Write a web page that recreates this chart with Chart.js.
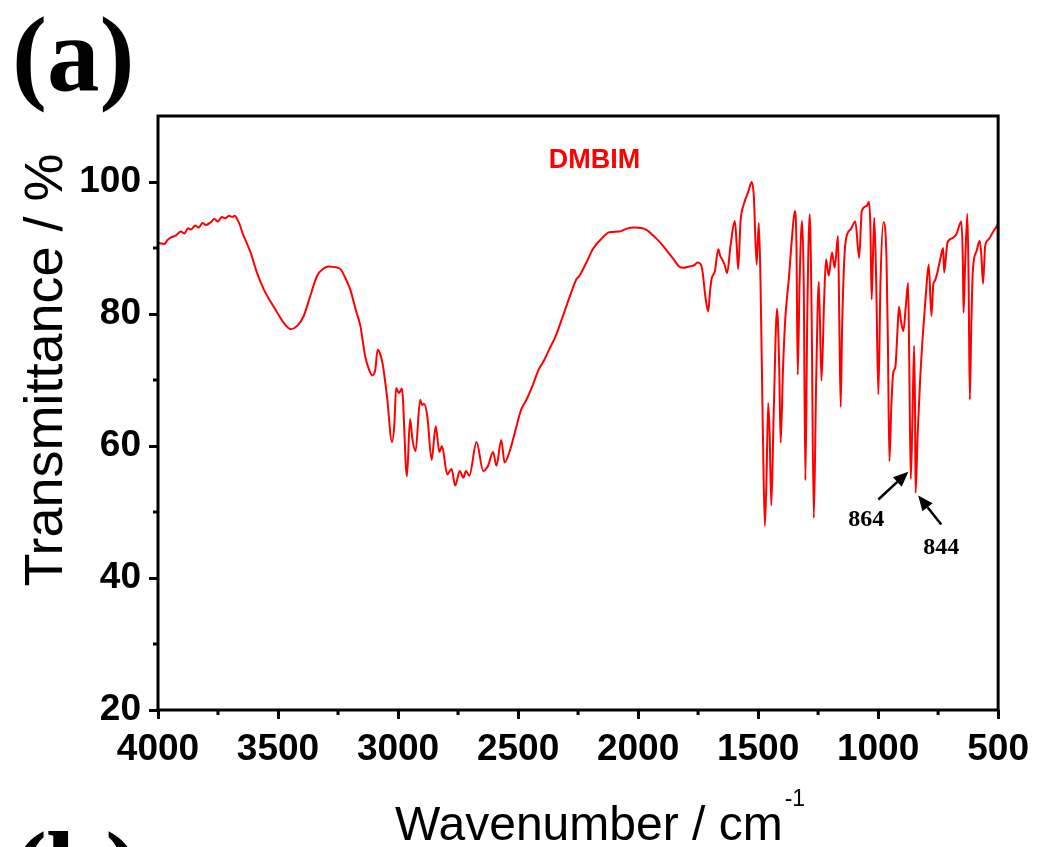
<!DOCTYPE html>
<html>
<head>
<meta charset="utf-8">
<script src="https://cdn.jsdelivr.net/npm/chart.js@4.4.0/dist/chart.umd.min.js"></script>
<style>
  html, body { margin: 0; padding: 0; background: #fff; }
  #wrap { width: 1038px; height: 847px; position: relative; }
</style>
</head>
<body>
<div id="wrap"><canvas id="ftir" width="1038" height="847"></canvas></div>
<script>
// ---- data ----
const wavenumber = [
  4000, 3974, 3960, 3946, 3925, 3905, 3890, 3875, 3863, 3845, 3830, 3815, 3800, 3780, 3765, 3750,
  3735, 3720, 3704, 3690, 3680, 3669, 3660, 3648, 3614, 3590, 3559, 3530, 3503, 3475, 3448, 3420,
  3393, 3365, 3337, 3310, 3289, 3265, 3240, 3220, 3199, 3175, 3157, 3137, 3120, 3108, 3095, 3085,
  3075, 3064, 3046, 3025, 3015, 3008, 2996, 2984, 2963, 2950, 2940, 2927, 2908, 2900, 2892, 2878,
  2860, 2843, 2828, 2817, 2795, 2777, 2762, 2743, 2728, 2717, 2703, 2673, 2645, 2625, 2604, 2590,
  2570, 2556, 2535, 2510, 2487, 2465, 2438, 2415, 2390, 2368, 2345, 2313, 2279, 2258, 2244, 2210,
  2189, 2150, 2120, 2078, 2050, 2016, 1967, 1926, 1900, 1878, 1850, 1829, 1810, 1787, 1765, 1753,
  1740, 1733, 1718, 1708, 1700, 1694, 1680, 1666, 1658, 1650, 1640, 1629, 1615, 1597, 1590, 1583,
  1573, 1559, 1541, 1527, 1518, 1506, 1497, 1490, 1480, 1472, 1465, 1458, 1452, 1445, 1435, 1421,
  1412, 1406, 1396, 1386, 1372, 1360, 1347, 1340, 1335, 1327, 1317, 1310, 1303, 1295, 1285, 1277,
  1268, 1258, 1247, 1236, 1225, 1217, 1206, 1192, 1181, 1167, 1162, 1156, 1150, 1136, 1115, 1095,
  1079, 1068, 1047, 1038, 1032, 1027, 1022, 1016, 1008, 999, 990, 978, 965, 959, 953, 945,
  937, 928, 920, 913, 905, 895, 885, 875, 870, 864, 857, 850, 846, 844, 835, 825,
  813, 800, 789, 778, 770, 764, 755, 740, 729, 725, 711, 690, 674, 653, 647, 644,
  638, 628, 623, 618, 612, 605, 590, 577, 570, 563, 554, 540, 520, 500
];
const transmittance = [
  90.8, 90.6, 91.2, 91.6, 91.9, 92.5, 92.2, 93.0, 92.8, 93.4, 93.1, 93.8, 93.5, 93.9, 94.4, 94.0,
  94.7, 94.5, 94.9, 94.7, 94.9, 94.3, 93.6, 92.3, 89.3, 86.5, 83.7, 81.8, 80.2, 78.6, 77.7, 78.2,
  79.7, 82.8, 85.8, 86.9, 87.2, 87.1, 86.8, 85.5, 83.7, 80.5, 78.2, 73.6, 71.5, 70.7, 71.5, 74.6,
  74.0, 72.4, 67.5, 60.6, 63.5, 68.8, 68.0, 68.7, 55.4, 64.1, 61.0, 59.2, 67.0, 66.2, 66.4, 64.5,
  57.9, 63.0, 59.1, 60.0, 55.7, 56.5, 54.0, 56.2, 55.2, 56.2, 55.5, 60.6, 56.2, 57.0, 59.1, 57.0,
  60.9, 57.5, 59.2, 62.5, 65.5, 67.0, 69.3, 71.5, 73.1, 74.8, 76.5, 79.7, 83.2, 85.2, 85.8, 88.2,
  89.8, 91.5, 92.4, 92.5, 92.9, 93.1, 92.8, 91.5, 90.5, 89.5, 88.2, 87.2, 87.0, 87.2, 87.4, 87.8,
  87.6, 86.8, 82.2, 80.4, 83.5, 85.3, 86.5, 89.8, 88.8, 88.3, 87.5, 86.2, 90.3, 94.1, 91.0, 86.8,
  94.1, 96.7, 98.5, 100.0, 98.0, 87.5, 93.8, 85.0, 62.0, 47.9, 55.0, 66.5, 62.0, 51.0, 65.0, 80.8,
  72.0, 60.5, 72.0, 79.7, 85.3, 91.0, 95.6, 90.0, 70.8, 85.0, 94.1, 85.0, 54.8, 80.0, 95.1, 80.0,
  49.1, 70.0, 84.9, 69.9, 82.0, 88.3, 85.8, 89.3, 87.0, 91.8, 80.0, 65.9, 78.0, 90.8, 92.8, 94.0,
  88.5, 95.6, 96.4, 97.0, 93.0, 82.2, 88.0, 94.6, 85.0, 67.8, 85.0, 93.9, 88.3, 75.0, 57.7, 66.0,
  71.1, 72.0, 77.0, 81.1, 79.0, 77.4, 81.0, 84.7, 72.0, 55.0, 64.0, 75.2, 65.0, 52.9, 62.0, 70.0,
  77.2, 83.5, 87.5, 79.7, 84.5, 85.0, 86.0, 88.5, 90.0, 86.3, 90.8, 91.5, 92.1, 94.0, 88.0, 80.2,
  87.0, 95.2, 85.0, 67.0, 78.0, 86.8, 89.5, 91.1, 89.0, 84.6, 90.3, 91.3, 92.5, 93.6
];

const xTicks = [4000, 3500, 3000, 2500, 2000, 1500, 1000, 500];
const xMinorTicks = [3750, 3250, 2750, 2250, 1750, 1250, 750];
const yTicks = [20, 40, 60, 80, 100];
const yMinorTicks = [30, 50, 70, 90];

const seriesName = "DMBIM";
const seriesLabelAt = { x: 2182, y: 103.3 };

// peak markers: label text, label position, arrow tail, arrow head (data units)
const peakMarks = [
  { text: "864", label: { x: 1049, y: 48.8 }, from: { x: 999, y: 51.9 }, to: { x: 874, y: 56.1 } },
  { text: "844", label: { x: 737, y: 44.6 }, from: { x: 737, y: 48.1 }, to: { x: 833, y: 52.5 } },
];

// ---- helpers ----
function arrow(ctx, x1, y1, x2, y2) {
  const a = Math.atan2(y2 - y1, x2 - x1);
  const len = 15;
  const hw = 6.5;
  const bx = x2 - len * Math.cos(a);
  const by = y2 - len * Math.sin(a);
  ctx.beginPath();
  ctx.moveTo(x1, y1);
  ctx.lineTo(bx, by);
  ctx.stroke();
  ctx.beginPath();
  ctx.moveTo(x2, y2);
  ctx.lineTo(bx + hw * Math.sin(a), by - hw * Math.cos(a));
  ctx.lineTo(bx - hw * Math.sin(a), by + hw * Math.cos(a));
  ctx.closePath();
  ctx.fill();
}

const decor = {
  id: "decor",
  afterDraw(chart) {
    const { ctx, chartArea: area, scales } = chart;
    const xs = scales.x;
    const ys = scales.y;
    ctx.save();

    // frame
    ctx.strokeStyle = "#000";
    ctx.lineWidth = 3;
    ctx.strokeRect(area.left, area.top, area.right - area.left, area.bottom - area.top);

    // minor ticks
    ctx.beginPath();
    xMinorTicks.forEach((v) => {
      const px = xs.getPixelForValue(v);
      ctx.moveTo(px, area.bottom);
      ctx.lineTo(px, area.bottom + 5);
    });
    yMinorTicks.forEach((v) => {
      const py = ys.getPixelForValue(v);
      ctx.moveTo(area.left, py);
      ctx.lineTo(area.left - 5, py);
    });
    ctx.stroke();

    // series label
    ctx.fillStyle = "#ff0000";
    ctx.font = "bold 27px 'Liberation Sans', Arial, sans-serif";
    ctx.textAlign = "center";
    ctx.textBaseline = "middle";
    ctx.fillText(seriesName, xs.getPixelForValue(seriesLabelAt.x), ys.getPixelForValue(seriesLabelAt.y));

    // peak markers
    ctx.fillStyle = "#000";
    ctx.strokeStyle = "#000";
    ctx.lineWidth = 2.5;
    ctx.font = "bold 24px 'Liberation Serif', 'Times New Roman', serif";
    peakMarks.forEach((m) => {
      arrow(ctx,
        xs.getPixelForValue(m.from.x), ys.getPixelForValue(m.from.y),
        xs.getPixelForValue(m.to.x), ys.getPixelForValue(m.to.y));
      ctx.fillText(m.text, xs.getPixelForValue(m.label.x), ys.getPixelForValue(m.label.y));
    });

    // axis titles
    ctx.fillStyle = "#000";
    ctx.textAlign = "left";
    ctx.textBaseline = "alphabetic";
    const xt = "Wavenumber / cm";
    ctx.font = "48px 'Liberation Sans', Arial, sans-serif";
    const w = ctx.measureText(xt).width;
    const x0 = 395;
    ctx.fillText(xt, x0, 840);
    ctx.font = "23px 'Liberation Sans', Arial, sans-serif";
    ctx.fillText("-1", x0 + w + 2, 806);

    ctx.save();
    ctx.translate(62, 370);
    ctx.rotate(-Math.PI / 2);
    ctx.font = "54px 'Liberation Sans', Arial, sans-serif";
    ctx.textAlign = "center";
    ctx.fillText("Transmittance / %", 0, 0);
    ctx.restore();

    // panel letters
    ctx.font = "bold 105px 'Liberation Serif', 'Times New Roman', serif";
    ctx.textAlign = "left";
    ctx.fillText("(a)", 12, 90);
    ctx.fillText("(b)", 12, 905);

    ctx.restore();
  },
};

const tickFont = { family: "'Liberation Sans', Arial, sans-serif", size: 37, weight: "bold" };

new Chart(document.getElementById("ftir"), {
  type: "line",
  data: {
    datasets: [
      {
        label: seriesName,
        data: wavenumber.map((x, i) => ({ x, y: transmittance[i] })),
        borderColor: "#ff0000",
        borderWidth: 2,
        pointRadius: 0,
        cubicInterpolationMode: "monotone",
        fill: false,
      },
    ],
  },
  options: {
    responsive: false,
    animation: false,
    layout: { padding: { left: 0, top: 116, right: 39, bottom: 0 } },
    scales: {
      x: {
        type: "linear",
        reverse: true,
        min: 500,
        max: 4000,
        afterBuildTicks: (s) => { s.ticks = xTicks.map((v) => ({ value: v })); },
        afterFit: (s) => { s.height = 137; },
        ticks: { font: tickFont, color: "#000", padding: 9, maxRotation: 0, autoSkip: false, callback: (v) => String(v) },
        grid: { drawOnChartArea: false, tickLength: 9, tickWidth: 3, tickColor: "#000" },
        border: { display: false },
      },
      y: {
        min: 20,
        max: 110,
        afterBuildTicks: (s) => { s.ticks = yTicks.map((v) => ({ value: v })); },
        afterFit: (s) => { s.width = 158; },
        ticks: { font: tickFont, color: "#000", padding: 8, callback: (v) => String(v) },
        grid: { drawOnChartArea: false, tickLength: 9, tickWidth: 3, tickColor: "#000" },
        border: { display: false },
      },
    },
    plugins: { legend: { display: false }, tooltip: { enabled: false } },
  },
  plugins: [decor],
});
</script>
</body>
</html>
